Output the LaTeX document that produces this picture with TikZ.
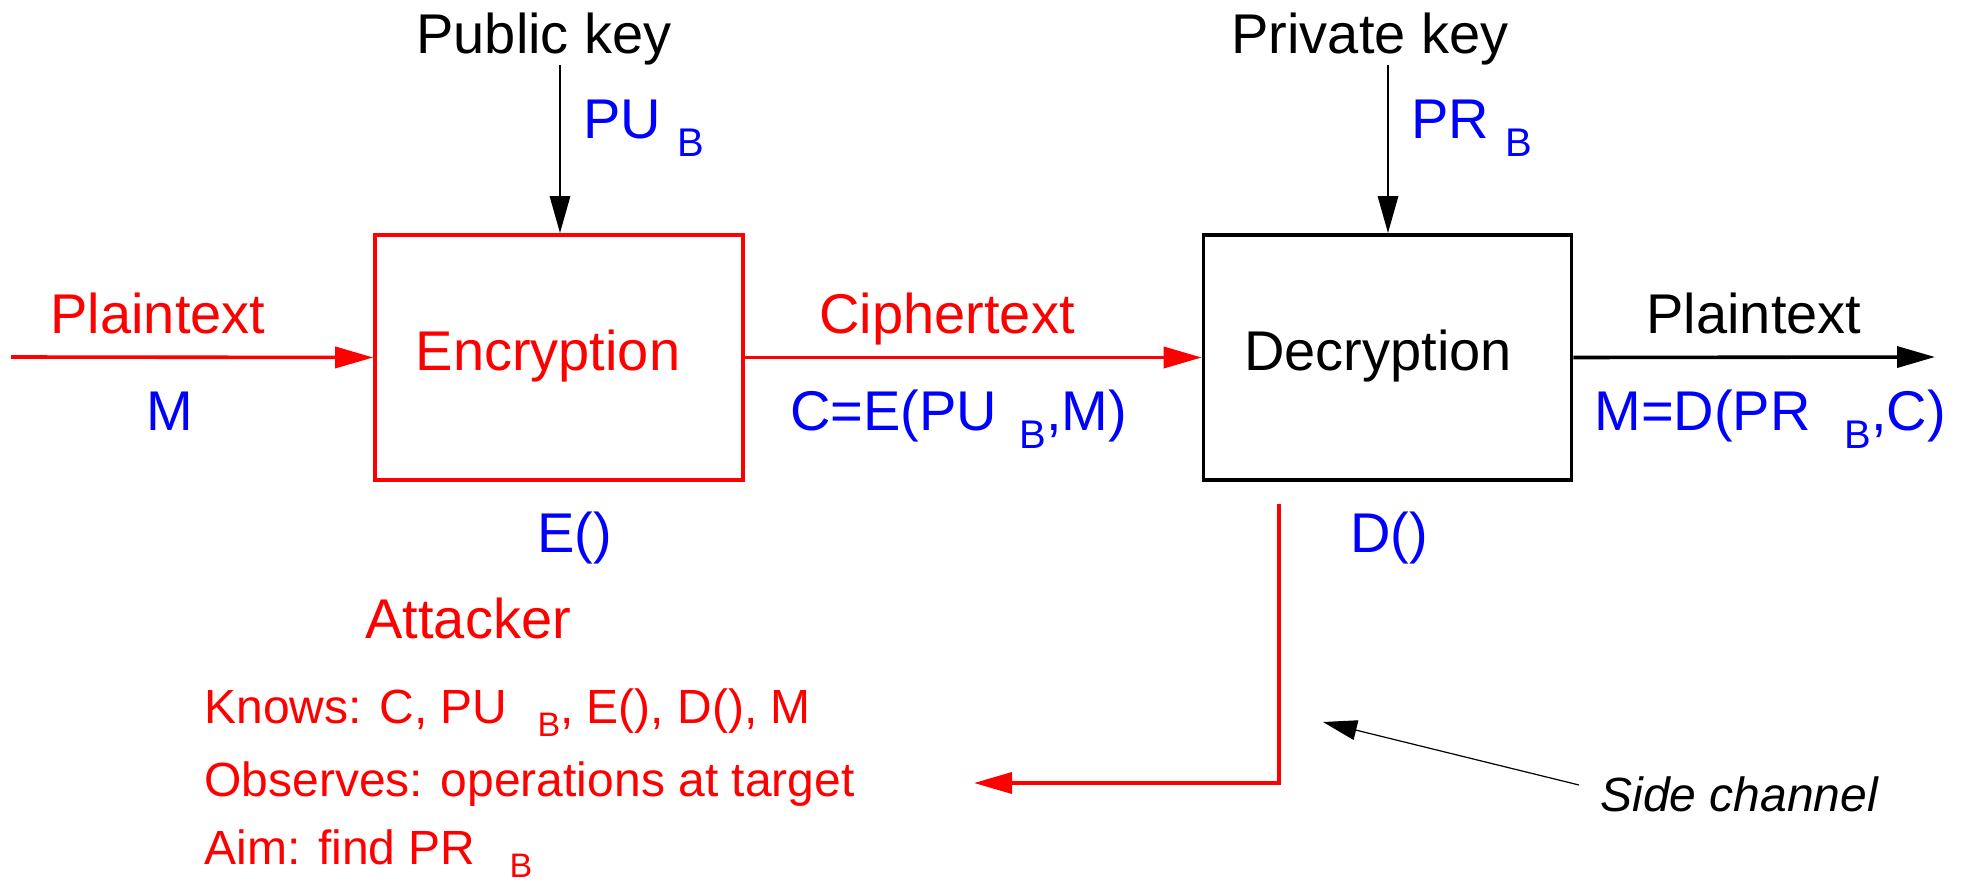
\documentclass[tikz,border=0pt]{standalone}
\usepackage{fontspec}
\setmainfont{Liberation Sans}
\usetikzlibrary{arrows.meta}
\definecolor{rd}{RGB}{255,0,0}
\definecolor{bl}{RGB}{0,0,255}
\newcommand\bigsub[1]{\raisebox{-9pt}{\fontsize{20}{20}\selectfont #1}}
\newcommand\smallsub[1]{\raisebox{-6.5pt}{\fontsize{17}{17}\selectfont #1}}
\tikzset{
  big/.style={font=\fontsize{28}{34}\selectfont, inner sep=0pt},
  small/.style={font=\fontsize{24}{29}\selectfont, inner sep=0pt},
  box/.style={draw, line width=1.8pt, minimum width=184pt, minimum height=122.5pt, inner sep=0pt},
  arr/.style={line width=1.8pt, -{Triangle[length=19pt,width=10.5pt]}},
  keyarr/.style={line width=1.4pt, -{Triangle[length=18.5pt,width=10pt]}},
  thinarr/.style={line width=0.6pt, -{Triangle[length=17pt,width=10pt]}},
}
\begin{document}
\begin{tikzpicture}[x=0.5pt,y=-0.5pt]
\useasboundingbox (0,0) rectangle (1971,882);
% boxes
\node[box, draw=rd] (enc) at (559,357.5) {};
\node[box, draw=black] (dec) at (1387.5,357.5) {};
% box texts
\node[big, text=rd, anchor=base] (enctxt) at (548,371) {Encryption};
\node[big, text=black, anchor=base] (dectxt) at (1378,371) {Decryption};
% key labels
\node[big, anchor=base] (pubkey) at (544,54) {Public key};
\node[big, anchor=base] (privkey) at (1370,54) {Private key};
\node[big, text=bl, anchor=base west] (pub) at (583,139) {PU\hspace{8pt}\bigsub{B}};
\node[big, text=bl, anchor=base west] (priv) at (1411,139) {PR\hspace{8pt}\bigsub{B}};
% flow labels
\node[big, text=rd, anchor=base] (pt1) at (158,334) {Plaintext};
\node[big, text=bl, anchor=base] (m1) at (170,430) {M};
\node[big, text=rd, anchor=base] (ct) at (947,334) {Ciphertext};
\node[big, text=bl, anchor=base west] (cform) at (790,430) {C=E(PU\hspace{11pt}\bigsub{B},M)};
\node[big, text=black, anchor=base] (pt2) at (1754,334) {Plaintext};
\node[big, text=bl, anchor=base west] (mform) at (1594,430) {M=D(PR\hspace{17pt}\bigsub{B},C)};
\node[big, text=bl, anchor=base west] (efun) at (537,552) {E()};
\node[big, text=bl, anchor=base west] (dfun) at (1350,552) {D()};
% attacker
\node[big, text=rd, anchor=base west] (att) at (365,638) {Attacker};
\node[small, text=rd, anchor=base west] (knows) at (204,723) {Knows: C, PU\hspace{15pt}\smallsub{B}, E(), D(), M};
\node[small, text=rd, anchor=base west] (obs) at (204,796) {Observes: operations at target};
\node[small, text=rd, anchor=base west] (aim) at (204,864) {Aim: find PR\hspace{17pt}\smallsub{B}};
\node[small, anchor=base west, font=\fontsize{24}{29}\selectfont\itshape] (sc) at (1600,811) {Side channel};
% coordinates for free ends
\coordinate (inL) at (11,357);
\coordinate (outR) at (1935,357);
\coordinate (pkTop) at (560,65);
\coordinate (prTop) at (1388,65);
\coordinate (sideTop) at (1279,504);
\coordinate (sideEnd) at (974,783);
\coordinate (scTail) at (1579,785);
\coordinate (scTip) at (1323,722);
% connectors
\draw[arr, draw=rd] (inL) -- (enc.west);
\draw[arr, draw=rd] (enc.east) -- (dec.west);
\draw[arr, draw=black] (dec.east) -- (outR);
\draw[keyarr] (pkTop) -- (pkTop |- enc.north);
\draw[keyarr] (prTop) -- (prTop |- dec.north);
\draw[arr, draw=rd] (sideTop) |- (sideEnd);
\draw[thinarr] (scTail) -- (scTip);
\end{tikzpicture}
\end{document}
